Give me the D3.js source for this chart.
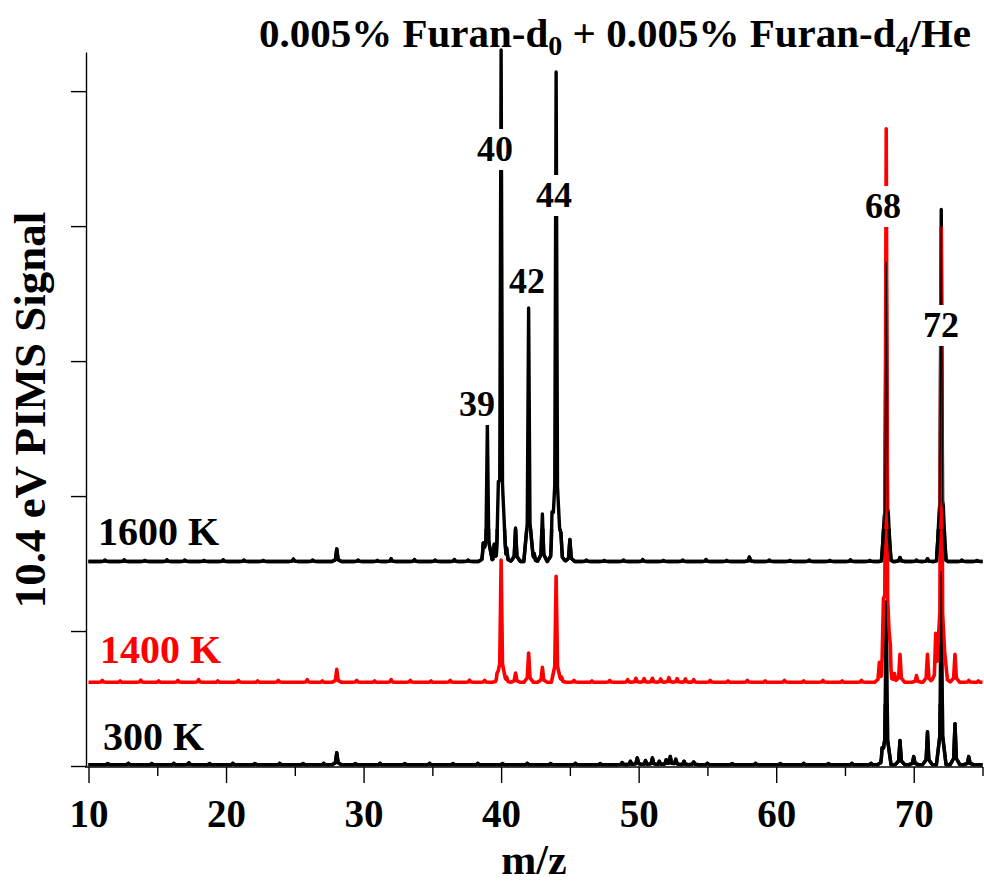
<!DOCTYPE html>
<html>
<head>
<meta charset="utf-8">
<script src="https://cdn.jsdelivr.net/npm/d3@7"></script>
<style>
  body { margin: 0; background: #fff; }
  text { font-family: "Liberation Serif", "Times New Roman", serif; font-weight: bold; }
</style>
</head>
<body>
<svg id="chart" width="984" height="888"></svg>
<script>
// axis ticks (m/z) and unlabeled signal ticks
var massTicks = [10, 20, 30, 40, 50, 60, 70];
var minorTicks = [15, 25, 35, 45, 55, 65, 75];
var signalTicks = [0, 1, 2, 3, 4, 5];

// traces: label, colour, baseline level
var temps = ["1600 K", "1400 K", "300 K"];
var tempColors = ["#000", "#ff0000", "#000"];
var baselines = [1.515, 0.62, 0.01];

// peaks: [m/z, height above the trace baseline]
var peaks1600 = [[28.05, 0.093], [38.7, 0.107], [39.0, 1.006], [39.5, 0.12], [39.8, 0.25], [40.0, 3.767],
  [40.4, 0.1], [41.05, 0.248], [42.0, 1.878], [42.4, 0.06], [43.0, 0.352], [43.7, 0.26], [44.0, 3.619],
  [44.35, 0.211], [45.0, 0.163], [58.05, 0.033], [67.85, 0.06], [68.0, 2.196], [68.15, 0.1],
  [69.0, 0.03], [71.0, 0.02], [71.85, 0.06], [72.0, 2.589], [72.15, 0.1]];
var peaks1400 = [[28.05, 0.096], [39.7, 0.04], [40.0, 0.904], [40.4, 0.04], [41.05, 0.069], [42.0, 0.217],
  [43.0, 0.111], [44.0, 0.785], [44.4, 0.04], [67.5, 0.14], [67.8, 0.25], [68.0, 4.074], [68.3, 0.15],
  [68.6, 0.06], [69.0, 0.207], [70.2, 0.05], [71.0, 0.207], [71.6, 0.363], [72.0, 3.37], [72.35, 0.12],
  [73.0, 0.207]];
var peaks300 = [[28.05, 0.089], [49.9, 0.05], [51.0, 0.05], [52.3, 0.06], [67.7, 0.09], [68.0, 1.207],
  [69.0, 0.18], [70.0, 0.06], [71.0, 0.244], [72.0, 1.43], [73.0, 0.304], [74.0, 0.06]];

// small baseline bumps
var noise1600 = [[11.2, .01], [12.6, .012], [14.1, .008], [15.7, .012], [17.0, .01], [18.4, .008], [19.8, .012],
  [21.3, .01], [22.7, .008], [24.9, .018], [26.3, .01], [29.6, .01], [31.0, .008], [32.0, .02], [33.7, .014],
  [35.2, .01], [36.6, .014], [37.6, .01], [46.2, .01], [47.5, .008], [48.9, .01], [50.3, .014], [51.8, .008],
  [53.2, .01], [54.9, .014], [56.4, .008], [59.5, .01], [61.0, .008], [62.4, .01], [63.9, .008], [65.4, .012],
  [66.8, .008], [70.2, .01], [73.5, .01], [74.6, .008]];
var noise1400 = [[11.0, .014], [12.3, .01], [13.8, .016], [15.1, .01], [16.5, .014], [18.0, .02], [19.4, .01],
  [20.9, .014], [22.3, .01], [23.8, .014], [25.9, .02], [27.0, .01], [29.5, .014], [30.8, .01], [32.0, .02],
  [33.4, .014], [34.9, .01], [36.3, .014], [37.7, .016], [38.8, .014], [45.3, .014], [46.6, .01], [47.9, .014],
  [49.2, .02], [49.8, .03], [50.4, .028], [51.0, .03], [51.6, .025], [52.2, .035], [52.8, .028], [53.4, .025],
  [54.0, .02], [55.2, .014], [56.5, .01], [57.9, .014], [59.2, .01], [60.6, .014], [62.0, .01], [63.4, .014],
  [64.8, .01], [66.2, .014], [74.0, .014], [74.7, .01]];
var noise300 = [[11.4, .008], [12.9, .01], [14.6, .008], [16.2, .01], [17.3, .014], [18.8, .008], [20.5, .01],
  [22.1, .008], [23.9, .01], [25.6, .008], [27.1, .01], [29.4, .008], [31.2, .01], [33.0, .008], [34.8, .01],
  [36.5, .008], [38.3, .01], [40.1, .008], [41.9, .01], [43.6, .008], [45.4, .01], [47.2, .008], [48.8, .015],
  [49.4, .025], [50.5, .03], [51.5, .025], [52.0, .035], [52.7, .04], [53.3, .025], [54.0, .02], [55.0, .01],
  [56.8, .008], [58.5, .01], [60.3, .008], [62.0, .01], [63.8, .008], [65.5, .01], [66.9, .01]];

var peakLabels = ["39", "40", "42", "44", "68", "72"];

var svg = d3.select("#chart");
var x = d3.scaleLinear().domain([10, 75]).range([88.5, 982.5]);
var y = d3.scaleLinear().domain([0, 5.29]).range([766, 52]);

// peak shape (m/z offset, fraction of height)
var shapeDx = [-0.35, -0.1, 0, 0.1, 0.35];
var shapeFr = [0, 0.15, 1, 0.15, 0];

function buildTrace(base, peaks) {
  var shapes = peaks.map(function (p) {
    return d3.scaleLinear()
      .domain(shapeDx.map(function (d) { return p[0] + d; }))
      .range(shapeFr.map(function (f) { return f * p[1]; }))
      .clamp(true);
  });
  var xs = [10, 75];
  peaks.forEach(function (p) { shapeDx.forEach(function (d) { xs.push(p[0] + d); }); });
  xs = Array.from(new Set(xs)).filter(function (v) { return v >= 10 && v <= 75; }).sort(d3.ascending);
  return xs.map(function (m) {
    return [m, base + d3.sum(shapes, function (s) { return s(m); })];
  });
}

var traces = [
  buildTrace(baselines[0], peaks1600.concat(noise1600)),
  buildTrace(baselines[1], peaks1400.concat(noise1400)),
  buildTrace(baselines[2], peaks300.concat(noise300))
];

var line = d3.line()
  .x(function (d) { return x(d[0]); })
  .y(function (d) { return y(d[1]); });

// clip bands near the black baselines, where black sits over the red
var defs = svg.append("defs");
defs.append("clipPath").attr("id", "band1600").append("rect")
  .attr("x", 0).attr("width", 984)
  .attr("y", y(baselines[0] + 0.24)).attr("height", y(baselines[0] - 0.1) - y(baselines[0] + 0.24));
defs.append("clipPath").attr("id", "band300").append("rect")
  .attr("x", 0).attr("width", 984)
  .attr("y", y(baselines[2] + 0.45)).attr("height", y(-0.1) - y(baselines[2] + 0.45));

function drawTrace(i, width, clip) {
  var p = svg.append("path")
    .datum(traces[i])
    .attr("d", line)
    .attr("fill", "none")
    .attr("stroke", tempColors[i])
    .attr("stroke-width", width)
    .attr("stroke-linejoin", "round");
  if (clip) p.attr("clip-path", "url(#" + clip + ")");
}

drawTrace(2, 3.4);
drawTrace(0, 3.4);
drawTrace(1, 3.6);
// dark centre of the black peaks showing through the red ones
drawTrace(0, 1.3);
drawTrace(2, 1.3);
drawTrace(0, 3.4, "band1600");
drawTrace(2, 3.4, "band300");

// x axis
var xAxis = svg.append("g").attr("transform", "translate(0,767)")
  .call(d3.axisBottom(x).tickValues(massTicks).tickSize(16).tickSizeOuter(0).tickPadding(16).tickFormat(d3.format("d")));
xAxis.select(".domain").remove();
xAxis.selectAll("text").attr("font-size", 39).attr("font-family", "Liberation Serif").attr("font-weight", "bold");
xAxis.selectAll(".tick line").attr("stroke-width", 1.4);
var xMinor = svg.append("g").attr("transform", "translate(0,767)")
  .call(d3.axisBottom(x).tickValues(minorTicks).tickSize(9).tickFormat(""));
xMinor.select(".domain").remove();
xMinor.selectAll(".tick line").attr("stroke-width", 1.4);
svg.append("line").attr("x1", 85).attr("x2", 983).attr("y1", 767).attr("y2", 767)
  .attr("stroke", "#000").attr("stroke-width", 1.4);

// y axis
var yAxis = svg.append("g").attr("transform", "translate(86,0)")
  .call(d3.axisLeft(y).tickValues(signalTicks).tickSize(15).tickSizeOuter(0).tickFormat(""));
yAxis.select(".domain").attr("stroke-width", 1.4);
yAxis.selectAll(".tick line").attr("stroke-width", 1.4);

// peak labels with white boxes
var labelPos = { "39": [477, 416], "40": [495, 161], "42": [527, 293], "44": [554, 207], "68": [883, 218], "72": [941, 337] };
peakLabels.forEach(function (t) {
  var p = labelPos[t];
  svg.append("rect").attr("x", p[0] - 20).attr("y", p[1] - 32).attr("width", 40).attr("height", 41).attr("fill", "#fff");
  svg.append("text").attr("x", p[0]).attr("y", p[1]).attr("text-anchor", "middle")
    .attr("font-size", 36).text(t);
});

// temperature labels
var tempPos = [[98, 545], [100, 663], [103, 750]];
temps.forEach(function (t, i) {
  svg.append("text").attr("x", tempPos[i][0]).attr("y", tempPos[i][1])
    .attr("font-size", 40).attr("fill", tempColors[i]).text(t);
});

// title
var title = svg.append("text").attr("x", 615).attr("y", 47).attr("text-anchor", "middle").attr("font-size", 41);
title.append("tspan").text("0.005% Furan-d");
title.append("tspan").attr("font-size", 28).attr("dy", 8).text("0");
title.append("tspan").attr("dy", -8).text(" + 0.005% Furan-d");
title.append("tspan").attr("font-size", 28).attr("dy", 8).text("4");
title.append("tspan").attr("dy", -8).text("/He");

// axis titles
svg.append("text").attr("x", 534).attr("y", 874).attr("text-anchor", "middle").attr("font-size", 42).text("m/z");
svg.append("text").attr("transform", "translate(45,410) rotate(-90)").attr("text-anchor", "middle")
  .attr("font-size", 45).text("10.4 eV PIMS Signal");
</script>
</body>
</html>
